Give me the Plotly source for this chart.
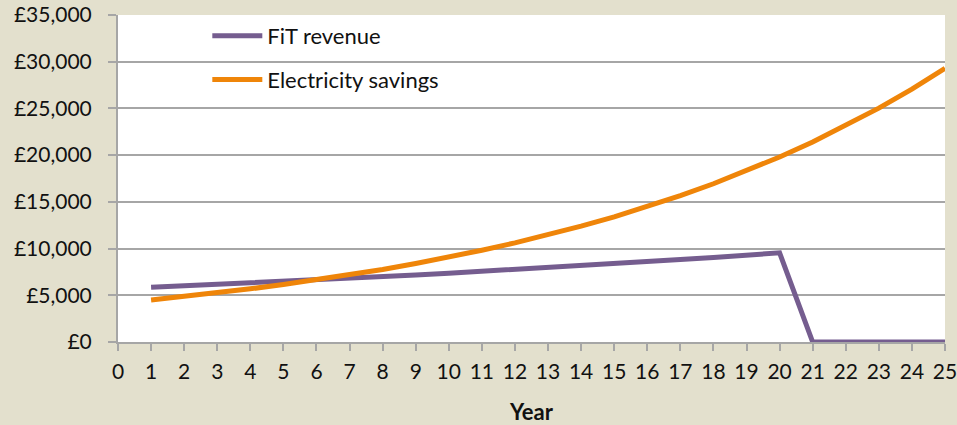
import plotly.graph_objects as go

years = list(range(1, 26))
fit_revenue = [5850, 6000, 6160, 6320, 6480, 6650, 6820, 7000, 7180, 7370,
               7560, 7760, 7960, 8170, 8380, 8600, 8820, 9050, 9290, 9540,
               0, 0, 0, 0, 0]
electricity_savings = [4500, 4860, 5260, 5690, 6150, 6650, 7190, 7770, 8400, 9080,
                       9820, 10610, 11470, 12400, 13400, 14490, 15670, 16940, 18320, 19800,
                       21410, 23150, 25030, 27060, 29300]
x_ticks = list(range(0, 26))
y_ticks = [0, 5000, 10000, 15000, 20000, 25000, 30000, 35000]
y_labels = ["£0", "£5,000", "£10,000", "£15,000", "£20,000", "£25,000", "£30,000", "£35,000"]

FONT = "Lato"
BG = "#E3E0CD"
fig = go.Figure()
fig.add_trace(go.Scatter(x=years, y=fit_revenue, mode="lines", name="FiT revenue",
                         legendgroup="a",
                         line=dict(color="#755D8F", width=5)))
fig.add_trace(go.Scatter(x=years, y=electricity_savings, mode="lines", name="Electricity savings",
                         legendgroup="b",
                         line=dict(color="#EF8509", width=5)))

fig.update_layout(
    width=957, height=425,
    paper_bgcolor=BG,
    plot_bgcolor="#FFFFFF",
    margin=dict(l=118, r=12, t=15, b=83, autoexpand=False),
    font=dict(family=FONT, size=21, color="#111111"),
    showlegend=True,
    legend=dict(x=0.108, y=1.0, xanchor="left", yanchor="top",
                bgcolor="rgba(0,0,0,0)", traceorder="grouped", tracegroupgap=12,
                itemwidth=50, font=dict(family=FONT, size=22, color="#111111")),
    xaxis=dict(range=[0, 25], tickmode="array", tickvals=x_ticks,
               ticktext=[str(v) for v in x_ticks], automargin=False,
               ticklabeloverflow="allow",
               showgrid=False, zeroline=False, showline=True, linecolor="#A6A6A6", linewidth=2,
               ticks="outside", ticklen=7, tickwidth=2, tickcolor="#A6A6A6",
               ticklabelstandoff=3,
               title=dict(text="<b>Year</b>", font=dict(family=FONT, size=22), standoff=26)),
    yaxis=dict(range=[0, 35000], tickmode="array", tickvals=y_ticks, ticktext=y_labels,
               automargin=False,
               showgrid=True, gridcolor="#A6A6A6", gridwidth=2, zeroline=False,
               showline=True, linecolor="#A6A6A6", linewidth=2,
               ticks="outside", ticklen=8, tickwidth=2, tickcolor="#A6A6A6",
               ticklabelstandoff=12),
)

fig.write_html(
    "out.html",
    config={"displayModeBar": False},
    post_script="document.body.style.margin='0';document.body.style.background='" + BG + "';",
)
